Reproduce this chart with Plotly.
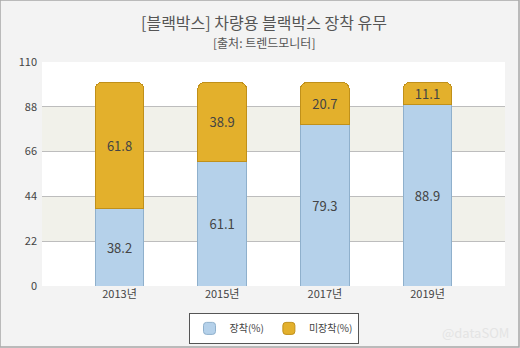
import plotly.graph_objects as go

years = ["2013년", "2015년", "2017년", "2019년"]
installed = [38.2, 61.1, 79.3, 88.9]
not_installed = [61.8, 38.9, 20.7, 11.1]
y_ticks = [0, 22, 44, 66, 88, 110]

W, H = 520, 348
ml, mr, mt, mb = 42, 15, 62, 62
pw, ph = W - ml - mr, H - mt - mb

fig = go.Figure()
fig.add_trace(go.Bar(
    x=years, y=installed, name="장착(%)",
    marker=dict(color="#b5d1ea", line=dict(color="#8fb0cc", width=1)),
    text=[f"{v:.1f}" for v in installed], textposition="inside",
    insidetextanchor="middle", textfont=dict(size=13, color="#444444"),
    width=0.477,
))
fig.add_trace(go.Bar(
    x=years, y=not_installed, name="미장착(%)",
    marker=dict(color="#e3b02c", line=dict(color="#c0901a", width=1)),
    text=[f"{v:.1f}" for v in not_installed], textposition="inside",
    insidetextanchor="middle", textfont=dict(size=13, color="#444444"),
    width=0.477,
))

shapes = []
# alternating bands
for i in range(1, len(y_ticks) - 1, 2):
    shapes.append(dict(type="rect", xref="paper", yref="y", x0=0, x1=1,
                       y0=y_ticks[i], y1=y_ticks[i + 1],
                       fillcolor="#f1f1ea", line=dict(width=0), layer="below"))
# outer border
shapes.append(dict(type="rect", xref="paper", yref="paper",
                   x0=-ml / pw, x1=(pw + mr - 1) / pw,
                   y0=-(mb - 1) / ph, y1=(ph + mt) / ph,
                   line=dict(color="#a8a8a8", width=1.5), fillcolor="rgba(0,0,0,0)"))

fig.update_layout(
    width=W, height=H,
    margin=dict(l=ml, r=mr, t=mt, b=mb, autoexpand=False),
    paper_bgcolor="#f3f3f3", plot_bgcolor="#ffffff",
    barmode="stack", barcornerradius=7,
    uniformtext=dict(minsize=13, mode="show"),
    font=dict(family="Noto Sans CJK KR, Noto Sans, sans-serif", color="#444444"),
    showlegend=True,
    legend=dict(orientation="h", x=0.5, xanchor="center", y=-0.12, yanchor="top",
                bgcolor="#ffffff", bordercolor="#555555", borderwidth=1,
                font=dict(size=10, color="#444444"), itemwidth=30,
                traceorder="normal"),
    shapes=shapes,
    annotations=[
        dict(text="[블랙박스] 차량용 블랙박스 장착 유무", xref="paper", yref="paper",
             x=0.5 - 10 / pw, y=(ph + mt - 22) / ph, xanchor="center", yanchor="middle",
             showarrow=False, font=dict(size=16, color="#555555")),
        dict(text="[출처: 트렌드모니터]", xref="paper", yref="paper",
             x=0.5 - 10 / pw, y=(ph + mt - 43) / ph, xanchor="center", yanchor="middle",
             showarrow=False, font=dict(size=12, color="#555555")),
        dict(text="@dataSOM", xref="paper", yref="paper",
             x=(511 - ml) / pw, y=-(332 - ml - ph - mt + ml) / ph, xanchor="right",
             yanchor="middle",
             showarrow=False, font=dict(size=13, color="#e4e4e4")),
    ],
)
fig.update_xaxes(range=[-0.755, 3.755], showgrid=False, showline=False,
                 ticks="", tickfont=dict(size=11, color="#444444"))
fig.update_yaxes(range=[0, 110], tickvals=y_ticks, showgrid=True,
                 gridcolor="#bdbdbd", gridwidth=1, zeroline=False,
                 tickfont=dict(size=11, color="#444444"), ticklabelstandoff=4)

fig.write_html("out.html")
